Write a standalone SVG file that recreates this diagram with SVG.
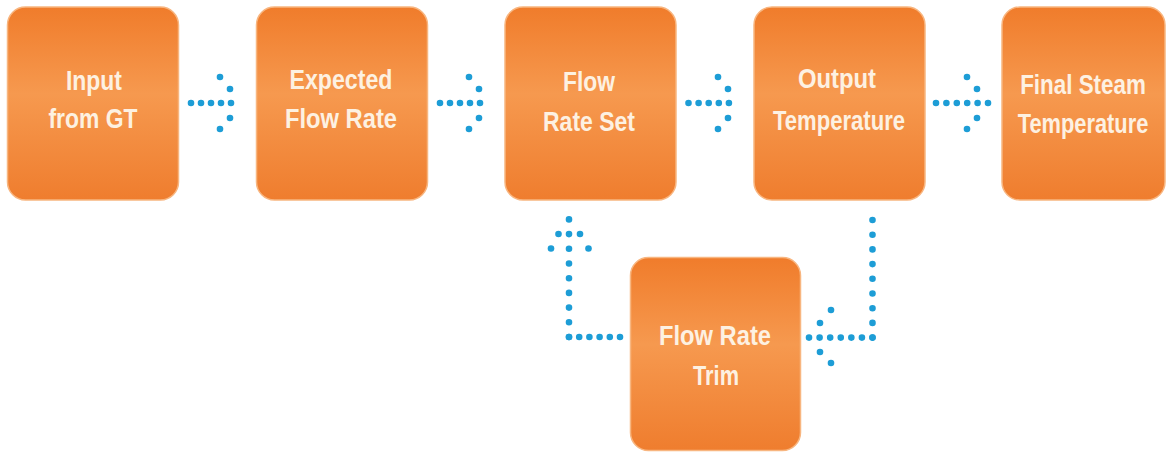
<svg xmlns="http://www.w3.org/2000/svg" width="1166" height="452" viewBox="0 0 1166 452">
<defs>
<linearGradient id="og" x1="0" y1="0" x2="0" y2="1">
<stop offset="0" stop-color="#f07c2b"/>
<stop offset="0.45" stop-color="#f6994f"/>
<stop offset="1" stop-color="#ef7d2e"/>
</linearGradient>
<circle id="d" r="3.3" fill="#1d9dd6"/>
<g id="chevR">
<use href="#d" x="-21" y="-26"/><use href="#d" x="-11" y="-14"/><use href="#d" x="-11" y="15"/><use href="#d" x="-21" y="26"/>
</g>
</defs>
<style>
.box{fill:url(#og);stroke:#f8b680;stroke-width:1.5}
.t{font-family:"Liberation Sans",Arial,sans-serif;font-weight:bold;font-size:28px;fill:#fdf1e2;text-anchor:middle}
.dh{fill:none;stroke:#1d9dd6;stroke-width:6.6;stroke-linecap:round}
</style>
<rect width="1166" height="452" fill="#ffffff"/>
<g id="n1">
<rect class="box" x="7.5" y="7" width="171" height="193" rx="18"/>
<text class="t" x="94" y="90" textLength="56" lengthAdjust="spacingAndGlyphs">Input</text>
<text class="t" x="93" y="128" textLength="89" lengthAdjust="spacingAndGlyphs">from GT</text>
</g>
<g id="n2">
<rect class="box" x="256.5" y="7" width="171" height="193" rx="18"/>
<text class="t" x="341" y="89" textLength="103" lengthAdjust="spacingAndGlyphs">Expected</text>
<text class="t" x="341" y="128" textLength="112" lengthAdjust="spacingAndGlyphs">Flow Rate</text>
</g>
<g id="n3">
<rect class="box" x="505" y="7" width="171" height="193" rx="18"/>
<text class="t" x="589" y="91" textLength="52" lengthAdjust="spacingAndGlyphs">Flow</text>
<text class="t" x="589" y="131" textLength="92" lengthAdjust="spacingAndGlyphs">Rate Set</text>
</g>
<g id="n4">
<rect class="box" x="754" y="7" width="171" height="193" rx="18"/>
<text class="t" x="837" y="88" textLength="78" lengthAdjust="spacingAndGlyphs">Output</text>
<text class="t" x="839" y="130" textLength="132" lengthAdjust="spacingAndGlyphs">Temperature</text>
</g>
<g id="n5">
<rect class="box" x="1002" y="7" width="163" height="193" rx="18"/>
<text class="t" transform="translate(1083 94) scale(0.8 1)">Final Steam</text>
<text class="t" transform="translate(1083 133) scale(0.78 1)">Temperature</text>
</g>
<g id="n6">
<rect class="box" x="630.5" y="257.5" width="170" height="193" rx="18"/>
<text class="t" x="715" y="345" textLength="112" lengthAdjust="spacingAndGlyphs">Flow Rate</text>
<text class="t" x="716" y="385" textLength="46" lengthAdjust="spacingAndGlyphs">Trim</text>
</g>
<g id="connectors">
<path class="dh" d="M191 103H241" stroke-dasharray="0 10"/>
<use href="#chevR" x="241" y="103"/>
<path class="dh" d="M440 103H490" stroke-dasharray="0 10"/>
<use href="#chevR" x="490" y="103"/>
<path class="dh" d="M688.5 103H739" stroke-dasharray="0 10.1"/>
<use href="#chevR" x="739" y="103"/>
<path class="dh" d="M936 103H988" stroke-dasharray="0 10.4"/>
<use href="#chevR" x="988" y="103"/>
<path class="dh" d="M620 337H569" stroke-dasharray="0 10.2"/>
<path class="dh" d="M569 337V219.4" stroke-dasharray="0 14.7"/>
<use href="#d" x="558.5" y="234"/><use href="#d" x="580" y="234"/>
<use href="#d" x="551" y="248.5"/><use href="#d" x="588.5" y="248.5"/>
<path class="dh" d="M872.5 220V337.6" stroke-dasharray="0 14.7"/>
<path class="dh" d="M872.5 337.6H809" stroke-dasharray="0 10.58"/>
<use href="#d" x="820" y="323"/><use href="#d" x="831" y="310"/>
<use href="#d" x="820" y="352"/><use href="#d" x="831" y="363"/>
</g>
</svg>
